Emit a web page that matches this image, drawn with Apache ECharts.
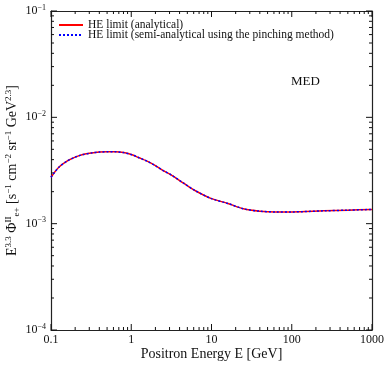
<!DOCTYPE html>
<html>
<head>
<meta charset="utf-8">
<script src="https://cdn.jsdelivr.net/npm/echarts@6/dist/echarts.min.js"></script>
<style>
  html, body { margin: 0; padding: 0; background: #fff; }
  #chart { width: 390px; height: 368px; }
  #err { position: absolute; left: 60px; top: 240px; width: 300px; font: 10px sans-serif; color: #c00; }
</style>
</head>
<body>
<div id="chart"></div>
<div id="err"></div>
<script>
window.onerror = function (msg) { document.getElementById('err').textContent += ' ' + msg }

// positron energy [GeV]
const energy = [0.1, 0.125, 0.16, 0.2, 0.25, 0.32, 0.4, 0.5, 0.63, 0.8, 1, 1.25, 1.6, 2, 2.5, 3.2,
  4.5, 6.3, 10, 16, 25, 40, 63, 100, 250, 500, 1000]
// E^3.3 flux, analytical HE limit
const analytical = [0.00273, 0.00339, 0.00389, 0.00422, 0.00447, 0.00462, 0.00471, 0.00475, 0.00474, 0.00466,
  0.00447, 0.00417, 0.00385, 0.00351, 0.00316, 0.00285, 0.0024, 0.00204, 0.00172, 0.00155, 0.00138,
  0.00131, 0.00129, 0.00129, 0.00132, 0.00134, 0.00136]
// semi-analytical (pinching method) -- same curve within line width
const pinching = [0.00273, 0.00339, 0.00389, 0.00422, 0.00447, 0.00462, 0.00471, 0.00475, 0.00474, 0.00466,
  0.00447, 0.00417, 0.00385, 0.00351, 0.00316, 0.00285, 0.0024, 0.00204, 0.00172, 0.00155, 0.00138,
  0.00131, 0.00129, 0.00129, 0.00132, 0.00134, 0.00136]

const xMajor = [0.1, 1, 10, 100, 1000]
const yMajor = [1e-4, 1e-3, 1e-2, 1e-1]
const yLabels = { '-4': '10{s|−4}', '-3': '10{s|−3}', '-2': '10{s|−2}', '-1': '10{s|−1}' }

const FONT = 'Liberation Serif'
const X0 = 0.1, X1 = 1000, Y0 = 1e-4, Y1 = 1e-1
const NAME_A = 'HE limit (analytical)'
const NAME_P = 'HE limit (semi-analytical using the pinching method)'

// tick values: decades + 2..9 minor
const xTicks = xMajor.slice()
for (let d = 0.1; d < 999; d *= 10) for (let k = 2; k <= 9; k++) xTicks.push(+(d * k).toPrecision(3))
const yTicks = yMajor.slice()
for (let d = 1e-4; d < 0.099; d *= 10) for (let k = 2; k <= 9; k++) yTicks.push(+(d * k).toPrecision(3))

function isDecade(v) {
  const l = Math.log10(v)
  return Math.abs(l - Math.round(l)) < 1e-6
}

function renderXTicks(params, api) {
  const v = api.value(0)
  const len = isDecade(v) ? 6 : 3
  const b = api.coord([v, Y0])
  const t = api.coord([v, Y1])
  return { type: 'group', children: [
    { type: 'line', shape: { x1: b[0], y1: b[1], x2: b[0], y2: b[1] - len }, style: { stroke: '#111', lineWidth: 1 } },
    { type: 'line', shape: { x1: t[0], y1: t[1], x2: t[0], y2: t[1] + len }, style: { stroke: '#111', lineWidth: 1 } }
  ] }
}
function renderYTicks(params, api) {
  const v = api.value(1)
  const len = isDecade(v) ? 6 : 3
  const l = api.coord([X0, v])
  const r = api.coord([X1, v])
  return { type: 'group', children: [
    { type: 'line', shape: { x1: l[0], y1: l[1], x2: l[0] + len, y2: l[1] }, style: { stroke: '#111', lineWidth: 1 } },
    { type: 'line', shape: { x1: r[0], y1: r[1], x2: r[0] - len, y2: r[1] }, style: { stroke: '#111', lineWidth: 1 } }
  ] }
}

function frameLine() {
  return { show: true, lineStyle: { color: '#222', width: 1.2 } }
}

const chart = echarts.init(document.getElementById('chart'), null, { renderer: 'canvas' })

const option = {
  animation: false,
  backgroundColor: '#fff',
  textStyle: { fontFamily: FONT },
  grid: { left: 51, right: 18, top: 11, bottom: 38, outerBoundsMode: 'none' },
  legend: {
    orient: 'vertical', left: 53, top: 14, itemGap: -2, itemWidth: 24, itemHeight: 6,
    itemStyle: { opacity: 0 },
    textStyle: { fontFamily: FONT, fontSize: 11.5, color: '#111' },
    data: [NAME_A, NAME_P]
  },
  xAxis: [
    {
      type: 'log', min: X0, max: X1,
      axisLine: frameLine(), axisTick: { show: false }, splitLine: { show: false },
      axisLabel: { fontFamily: FONT, fontSize: 12, color: '#111', margin: 4,
        formatter: v => String(+v.toPrecision(3)) },
      name: 'Positron Energy E [GeV]', nameLocation: 'middle', nameGap: 17, nameMoveOverlap: false,
      nameTextStyle: { fontFamily: FONT, fontSize: 14, color: '#111' }
    },
    {
      type: 'log', min: X0, max: X1, position: 'top',
      axisLine: frameLine(), axisTick: { show: false }, axisLabel: { show: false }, splitLine: { show: false }
    }
  ],
  yAxis: [
    {
      type: 'log', min: Y0, max: Y1,
      axisLine: frameLine(), axisTick: { show: false }, splitLine: { show: false },
      axisLabel: {
        fontFamily: FONT, fontSize: 12, color: '#111', margin: 5,
        formatter: v => yLabels[Math.round(Math.log10(v))] || '',
        rich: { s: { fontFamily: FONT, fontSize: 8, verticalAlign: 'top', padding: [0, 0, 7, 0] } }
      },
      name: 'E{s|3.3} Φ{s|II}{b|e+} [s{s|−1} cm{s|−2} sr{s|−1} GeV{s|2.3}]',
      nameLocation: 'middle', nameGap: 30, nameRotate: 90, nameMoveOverlap: false,
      nameTextStyle: {
        fontFamily: FONT, fontSize: 14, color: '#111',
        rich: {
          s: { fontFamily: FONT, fontSize: 9, verticalAlign: 'top', padding: [0, 0, 8, 0] },
          b: { fontFamily: FONT, fontSize: 9, verticalAlign: 'bottom', padding: [6, 0, 0, 0] }
        }
      }
    },
    {
      type: 'log', min: Y0, max: Y1, position: 'right',
      axisLine: frameLine(), axisTick: { show: false }, axisLabel: { show: false }, splitLine: { show: false }
    }
  ],
  series: [
    { type: 'custom', silent: true, renderItem: renderXTicks, clip: false, data: xTicks.map(v => [v, Y0]) },
    { type: 'custom', silent: true, renderItem: renderYTicks, clip: false, data: yTicks.map(v => [X0, v]) },
    {
      name: NAME_A, type: 'line', smooth: 0.3, symbol: 'none',
      data: energy.map((e, i) => [e, analytical[i]]),
      lineStyle: { color: '#ff0000', width: 1.5 }, itemStyle: { color: '#ff0000' }
    },
    {
      name: NAME_P, type: 'line', smooth: 0.3, symbol: 'none',
      data: energy.map((e, i) => [e, pinching[i]]),
      lineStyle: { color: '#0000ff', width: 1.5, type: [2, 2] }, itemStyle: { color: '#0000ff' }
    }
  ]
}
try {
  chart.setOption(option)
  chart.setOption({
    graphic: [
      { type: 'text', left: 291, top: 75,
        style: { text: 'MED', font: '13px "Liberation Serif"', fill: '#111' } }
    ]
  })
} catch (e) {
  document.getElementById('err').textContent += ' ' + e.message
}
</script>
</body>
</html>
